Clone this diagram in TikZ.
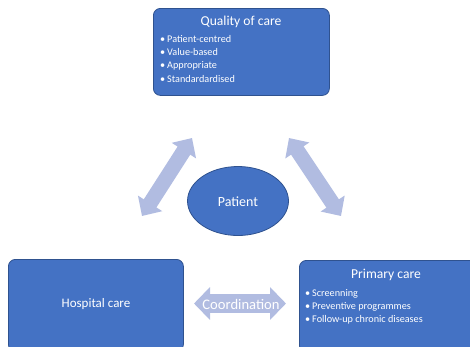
\documentclass[tikz,border=0pt]{standalone}
\usepackage{fontspec}
\setmainfont{Carlito}
\usetikzlibrary{arrows.meta,shapes.geometric}
\definecolor{boxblue}{HTML}{4472C4}
\definecolor{boxedge}{HTML}{2F528F}
\definecolor{arrowfill}{HTML}{B1BCE1}
\newcommand{\bul}{\makebox[7pt][l]{\textbullet}}
\begin{document}
\begin{tikzpicture}[x=1pt,y=-1pt,
  carebox/.style={draw=boxedge,line width=0.8pt,fill=boxblue,rounded corners=7pt,anchor=north west,inner sep=0pt},
  titletext/.style={text=white,font=\fontsize{13.6}{16}\selectfont,inner sep=0pt,anchor=base},
  bullettext/.style={text=white,font=\fontsize{10.2}{13}\selectfont,anchor=base west,inner sep=0pt},
  bigarrow/.style={draw=arrowfill,line width=15pt,{Triangle[width=28pt,length=15pt]}-{Triangle[width=28pt,length=15pt]}},
  coordarrow/.style={draw=arrowfill,line width=19pt,{Triangle[width=32pt,length=16pt]}-{Triangle[width=32pt,length=16pt]}}
]
\useasboundingbox (0,0) rectangle (470,346);
\clip (0,0) rectangle (470,346);
% boxes
\node[carebox,minimum width=176pt,minimum height=87pt] (quality) at (153,8) {};
\node[carebox,minimum width=175pt,minimum height=92pt] (hosp) at (8,259) {};
\node[carebox,minimum width=180pt,minimum height=92pt] (prim) at (299,260) {};
% quality of care
\node[titletext] (qtitle) at (241,25) {Quality of care};
\node[bullettext] (q1) at (160,42) {\bul Patient-centred};
\node[bullettext] (q2) at (160,55.4) {\bul Value-based};
\node[bullettext] (q3) at (160,68.8) {\bul Appropriate};
\node[bullettext] (q4) at (160,82.2) {\bul Standardardised};
% hospital care
\node[titletext,font=\fontsize{13}{16}\selectfont] (hosptext) at (96,307) {Hospital care};
% primary care
\node[titletext] (ptitle) at (386,278.5) {Primary care};
\node[bullettext] (p1) at (305,296) {\bul Screenning};
\node[bullettext] (p2) at (305,309) {\bul Preventive programmes};
\node[bullettext] (p3) at (305,322) {\bul Follow-up chronic diseases};
% patient
\node[ellipse,draw=boxedge,line width=0.8pt,fill=boxblue,minimum width=101pt,minimum height=69pt] (patient) at (238,201) {};
\node[titletext,font=\fontsize{14}{16}\selectfont] (ptext) at (238,206) {Patient};
% arrows
\coordinate (la) at (192,138);
\coordinate (lb) at (142,216);
\coordinate (ra) at (289,138);
\coordinate (rb) at (341,216);
\draw[bigarrow] (lb) -- (la);
\draw[bigarrow] (ra) -- (rb);
\coordinate (ca) at (194,303.5);
\coordinate (cb) at (286,303.5);
\draw[coordarrow] (ca) -- (cb);
\node[titletext,font=\fontsize{14.6}{16}\selectfont] (coord) at (241,309.5) {Coordination};
\end{tikzpicture}
\end{document}
